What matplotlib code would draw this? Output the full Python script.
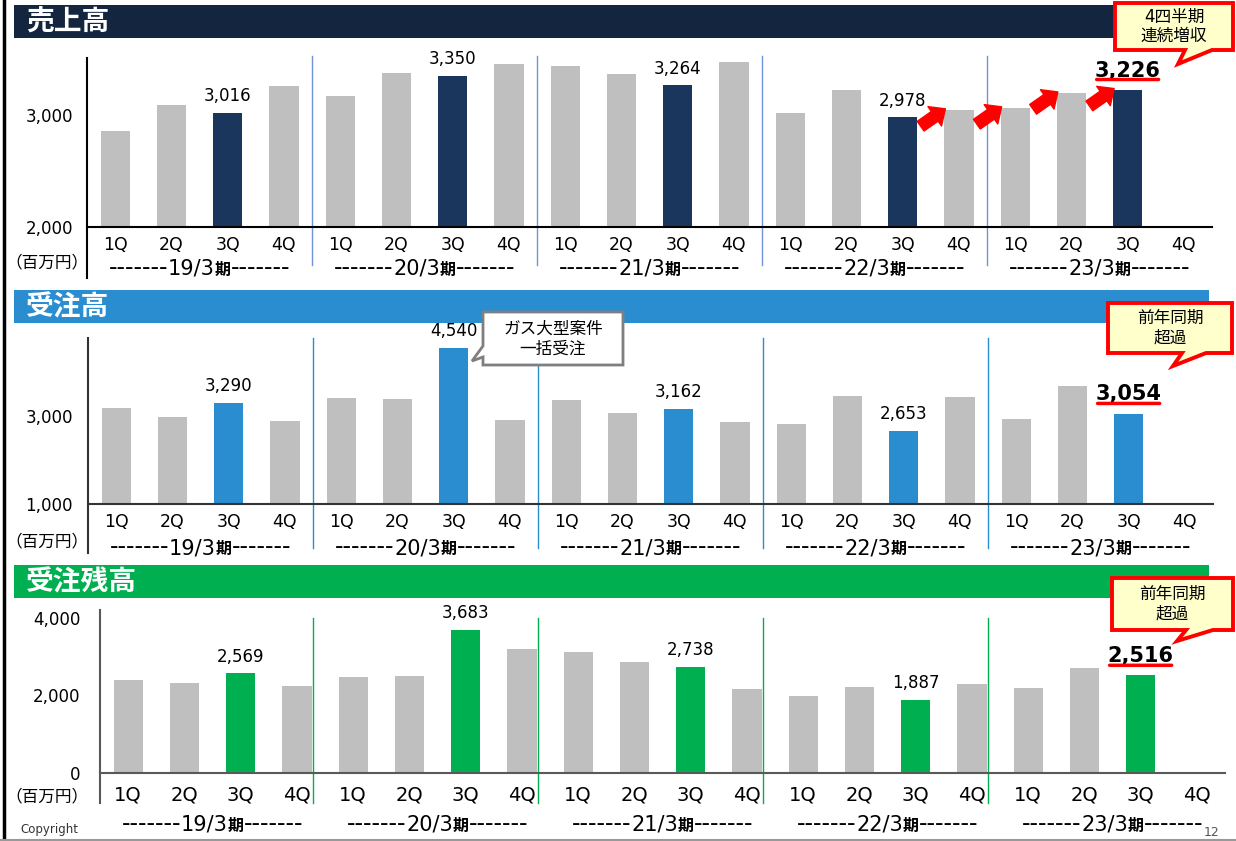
import numpy as np
import matplotlib.pyplot as plt
import matplotlib.transforms as mtransforms
from matplotlib.patches import Rectangle, Polygon
from matplotlib.lines import Line2D
from matplotlib.offsetbox import TextArea, HPacker, AnnotationBbox

# latin glyphs from DejaVu (wide, like the slide font), kanji/kana fall back to Noto CJK
plt.rcParams['font.family'] = ['DejaVu Sans', 'Noto Sans CJK JP']

W, H = 1236, 841

periods = ['19/3', '20/3', '21/3', '22/3', '23/3']
quarters = ['1Q', '2Q', '3Q', '4Q']

# 百万円, 1Q..4Q per fiscal period (23/3 4Q not yet reported)
sales = [2857, 3089, 3016, 3259,
         3170, 3375, 3350, 3455,
         3438, 3366, 3264, 3473,
         3018, 3223, 2978, 3045,
         3063, 3196, 3226, np.nan]
orders = [3182, 2977, 3290, 2886,
          3409, 3386, 4540, 2909,
          3364, 3068, 3162, 2864,
          2818, 3455, 2653, 3432,
          2932, 3682, 3054, np.nan]
backlog = [2400, 2323, 2569, 2245,
           2477, 2503, 3683, 3200,
           3123, 2865, 2738, 2168,
           1987, 2219, 1887, 2297,
           2194, 2710, 2516, np.nan]

titles = ['売上高', '受注高', '受注残高']
callout_texts = ['4四半期\n連続増収', '前年同期\n超過', '前年同期\n超過']
note_text = 'ガス大型案件\n一括受注'
unit_text = '（百万円）'

GRAY = '#bfbfbf'


def fx(x):
    return x / W


def fy(y):
    return 1 - y / H


fig = plt.figure(figsize=(W / 100, H / 100), dpi=100)


def callout(pts, text, ec, lw, fc, fs=12):
    fig.add_artist(Polygon([(fx(a), fy(b)) for a, b in pts], closed=True,
                           fc=fc, ec=ec, lw=lw, joinstyle='miter', zorder=5))
    xs = [p[0] for p in pts[:3]]
    ys = [p[1] for p in pts[:3]]
    fig.text(fx((min(xs) + max(xs)) / 2), fy((min(ys) + max(ys)) / 2), text,
             ha='center', va='center', fontsize=fs, linespacing=1.1, zorder=6)


def draw_panel(vals, title, band_col, hi_col, sep_col, axis_col,
               band_y, ax_left, ax_top, ax_base, ylim, yticks, ypad,
               left_ext, sep_y, sep_shift, qlab_y, per_y, unit_y, qfs,
               ctext, cbox, cbase, ctip):
    ax = fig.add_axes([fx(ax_left), fy(ax_base), 1125 / W, (ax_base - ax_top) / H])
    x = np.arange(len(vals))
    cols = [hi_col if i % 4 == 2 else GRAY for i in x]
    ax.bar(x, vals, width=0.52, color=cols, zorder=2)
    ax.set_xlim(-0.5, len(vals) - 0.5)
    ax.set_ylim(*ylim)
    ax.set_yticks(yticks, [f'{t:,}' for t in yticks], fontsize=12)
    ax.tick_params(axis='y', length=0, pad=ypad)
    ax.set_xticks([])
    for s in ['top', 'right', 'left']:
        ax.spines[s].set_visible(False)
    ax.spines['bottom'].set_color(axis_col)
    ax.spines['bottom'].set_linewidth(1.5)
    fig.add_artist(Line2D([fx(ax_left)] * 2, [fy(ax_top), fy(left_ext)],
                          color=axis_col, lw=1.5))

    tr = mtransforms.blended_transform_factory(ax.transData, fig.transFigure)
    for k in range(1, len(periods)):
        xs = 4 * k - 0.5 + sep_shift
        ax.plot([xs, xs], [fy(sep_y[0]), fy(sep_y[1])], transform=tr,
                color=sep_col, lw=1, clip_on=False)
    for i in x:
        ax.text(i, fy(qlab_y), quarters[i % 4], transform=tr, ha='center',
                va='center', fontsize=qfs)
    for k, p in enumerate(periods):
        pack = HPacker(children=[TextArea('-------', textprops=dict(fontsize=17)),
                                 TextArea(p, textprops=dict(fontsize=15)),
                                 TextArea('期', textprops=dict(fontsize=11.5, fontweight='bold')),
                                 TextArea('-------', textprops=dict(fontsize=17))],
                       align='baseline', pad=0, sep=0)
        ab = AnnotationBbox(pack, (4 * k + 1.5, fy(per_y)), xycoords=tr,
                            frameon=False, box_alignment=(0.5, 0.5),
                            annotation_clip=False)
        ax.add_artist(ab)
    fig.text(fx(47), fy(unit_y), unit_text, ha='center', va='center', fontsize=12)

    for i in x:
        v = vals[i]
        if i % 4 != 2 or np.isnan(v):
            continue
        if i == len(vals) - 2:
            t = ax.annotate(f'{int(v):,}', (i, v), xytext=(0, 9.5),
                            textcoords='offset points', ha='center',
                            va='baseline', fontsize=15, fontweight='bold')
            ax.annotate('', xy=(0.97, 0.05), xycoords=t, xytext=(0.03, 0.05), textcoords=t,
                        arrowprops=dict(arrowstyle='-', color='red', lw=2.5,
                                        shrinkA=0, shrinkB=0))
        else:
            ax.annotate(f'{int(v):,}', (i, v), xytext=(0, 8.5),
                        textcoords='offset points', ha='center',
                        va='baseline', fontsize=12)

    # header band
    fig.add_artist(Rectangle((fx(14), fy(band_y[1])), (1209 - 14) / W,
                             (band_y[1] - band_y[0]) / H, color=band_col, lw=0))
    fig.text(fx(26), fy((band_y[0] + band_y[1]) / 2 + 1), title, color='white',
             fontsize=20, fontweight='bold', ha='left', va='center')

    x0, y0, x1, y1 = cbox
    callout([(x0, y0), (x1, y0), (x1, y1), (cbase[1], y1), ctip, (cbase[0], y1), (x0, y1)],
            ctext, 'red', 2.8, '#ffffcc')
    return ax


ax1 = draw_panel(sales, titles[0], '#14253f', '#1b365d', '#6f95d6', 'black',
                 (5, 38), 87, 58, 227, (2000, 3509), [2000, 3000], 10,
                 278, (56, 265), 0, 245, 268, 262, 12.5,
                 callout_texts[0], (1115, 3, 1233, 50), (1185, 1212), (1178, 64))

ax2 = draw_panel(orders, titles[1], '#2a8dd0', '#2a8dd0', '#2a8dd0', '#333333',
                 (290, 323), 88, 338, 504, (1000, 4773), [1000, 3000], 11,
                 553, (338, 548), 0, 522, 547, 541, 12.5,
                 callout_texts[1], (1108, 303, 1232, 353), (1182, 1206), (1173, 366))

ax3 = draw_panel(backlog, titles[2], '#00b050', '#00b050', '#00b050', '#595959',
                 (565, 598), 100, 610, 773, (0, 4206), [0, 2000, 4000], 14,
                 803, (618, 803), -0.22, 795, 824, 796, 14,
                 callout_texts[2], (1112, 578, 1233, 630), (1186, 1213), (1177, 641))

# four consecutive increases: red block arrows
for i in range(14, 18):
    ax1.annotate('', xy=(i + 0.76, sales[i + 1] + 10), xytext=(i + 0.32, sales[i + 1] - 145),
                 arrowprops=dict(arrowstyle='simple,head_length=0.55,head_width=1.0,tail_width=0.5',
                                 mutation_scale=17, fc='red', ec='red',
                                 shrinkA=0, shrinkB=0))

# large gas order note
callout([(483, 312), (623, 312), (623, 365), (483, 365), (483, 357), (472, 361), (483, 346)],
        note_text, '#7f7f7f', 2, 'white')

# page frame
fig.add_artist(Line2D([fx(4), fx(4)], [0, 1], color='black', lw=2.5))
fig.add_artist(Line2D([0, 1], [fy(840), fy(840)], color='#999999', lw=1.5))
fig.text(fx(20), fy(829), 'Copyright', fontsize=8.5, color='#333333', va='center')
fig.text(fx(1212), fy(832), '12', fontsize=9, color='#555555', ha='center', va='center')

fig.savefig('out.png', dpi=100)
